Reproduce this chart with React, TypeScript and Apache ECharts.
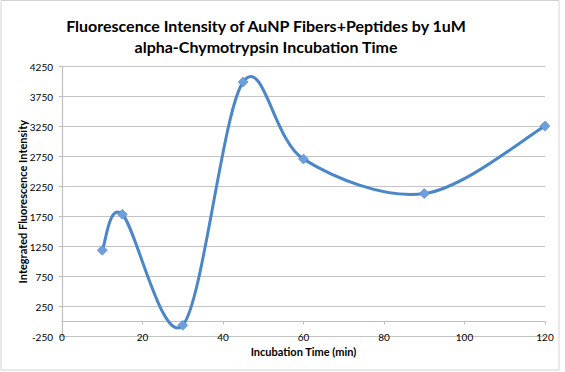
import React, { useEffect, useRef } from "react";
import * as echarts from "echarts";

const times = [10, 15, 30, 45, 60, 90, 120];
const intensity = [1190, 1790, -60, 3995, 2710, 2135, 3260];
const titleLines = [
  "Fluorescence Intensity of AuNP Fibers+Peptides by 1uM",
  "alpha-Chymotrypsin Incubation Time",
];
const xAxisTitle = "Incubation Time (min)";
const yAxisTitle = "Integrated Fluorescence Intensity";

const FONT = "Lato, 'Open Sans', sans-serif";
const LINE_COLOR = "#4A86C8";

// Excel-like smoothed line (Catmull-Rom style Bezier, tension 1/6) through api.coord
function renderSmooth(params: any, api: any) {
  if (params.dataIndex !== 0) return { type: "group", children: [] };
  const pts = times.map((t, i) => api.coord([t, intensity[i]]));
  let d = `M${pts[0][0]},${pts[0][1]}`;
  for (let i = 0; i < pts.length - 1; i++) {
    const p0 = pts[Math.max(i - 1, 0)];
    const p1 = pts[i];
    const p2 = pts[i + 1];
    const p3 = pts[Math.min(i + 2, pts.length - 1)];
    const c1x = p1[0] + (p2[0] - p0[0]) / 6;
    const c1y = p1[1] + (p2[1] - p0[1]) / 6;
    const c2x = p2[0] - (p3[0] - p1[0]) / 6;
    const c2y = p2[1] - (p3[1] - p1[1]) / 6;
    d += ` C${c1x},${c1y} ${c2x},${c2y} ${p2[0]},${p2[1]}`;
  }
  return {
    type: "path",
    shape: { pathData: d },
    style: { fill: "none", stroke: LINE_COLOR, lineWidth: 3, lineJoin: "round", lineCap: "round" },
    silent: true,
  };
}

export default function App() {
  const ref = useRef<HTMLDivElement>(null);
  useEffect(() => {
    if (!ref.current) return;
    const chart = echarts.init(ref.current, undefined, { renderer: "svg" });
    const pointData = times.map((t, i) => [t, intensity[i]]);
    chart.setOption({
      animation: false,
      backgroundColor: "#ffffff",
      textStyle: { fontFamily: FONT },
      graphic: [
        {
          type: "rect",
          shape: { x: 1, y: 0.5, width: 558, height: 369.5 },
          style: { fill: "none", stroke: "#D4D4D4", lineWidth: 1 },
          silent: true,
          z: -10,
        },
      ],
      title: {
        text: titleLines.join("\n"),
        left: 261,
        top: 10,
        textAlign: "center",
        textStyle: {
          fontFamily: FONT,
          fontSize: 16,
          fontWeight: "bold",
          lineHeight: 21,
          color: "#000000",
        },
      },
      grid: { left: 62, right: 20, top: 66.7, bottom: 35.3, containLabel: false },
      xAxis: [
        {
          type: "value",
          min: 0,
          max: 120,
          interval: 20,
          position: "bottom",
          name: xAxisTitle,
          nameLocation: "middle",
          nameGap: 9,
          nameMoveOverlap: false,
          nameTextStyle: { fontFamily: FONT, fontSize: 11, fontWeight: "bold", color: "#000" },
          axisLine: { show: false, onZero: false },
          axisTick: { show: false },
          axisLabel: { margin: -5, fontSize: 10, color: "#000", fontFamily: FONT },
          splitLine: { show: false },
        },
        {
          type: "value",
          min: 0,
          max: 120,
          interval: 20,
          position: "bottom",
          axisLine: { show: true, onZero: true, onZeroAxisIndex: 0, lineStyle: { color: "#BEBEBE", width: 1.2 } },
          axisTick: { show: true, length: 3, lineStyle: { color: "#BEBEBE" } },
          axisLabel: { show: false },
          splitLine: { show: false },
        },
      ],
      yAxis: {
        type: "value",
        min: -250,
        max: 4250,
        interval: 500,
        name: yAxisTitle,
        nameLocation: "middle",
        nameGap: 34,
        nameMoveOverlap: false,
        nameTextStyle: { fontFamily: FONT, fontSize: 11, fontWeight: "bold", color: "#000" },
        axisLine: { show: true, lineStyle: { color: "#BEBEBE", width: 1.2 } },
        axisTick: { show: true, length: 3, lineStyle: { color: "#BEBEBE" } },
        axisLabel: {
          margin: 9,
          fontSize: 10,
          color: "#000",
          fontFamily: FONT,
          formatter: (v: number) => String(v),
        },
        splitLine: { show: true, lineStyle: { color: "#C4C4C4", width: 1.2 } },
      },
      series: [
        {
          type: "custom",
          xAxisIndex: 0,
          yAxisIndex: 0,
          data: pointData,
          encode: { x: 0, y: 1 },
          renderItem: renderSmooth,
          z: 2,
        },
        {
          type: "scatter",
          xAxisIndex: 0,
          yAxisIndex: 0,
          data: pointData,
          symbol: "diamond",
          symbolSize: 10,
          itemStyle: { color: "#6E9FDC", borderColor: "#4F86C6", borderWidth: 0.6, opacity: 1 },
          z: 3,
        },
      ],
    });
    return () => chart.dispose();
  }, []);
  return (
    <div
      ref={ref}
      style={{ position: "fixed", left: 0, top: 0, width: 565, height: 372 }}
    />
  );
}
